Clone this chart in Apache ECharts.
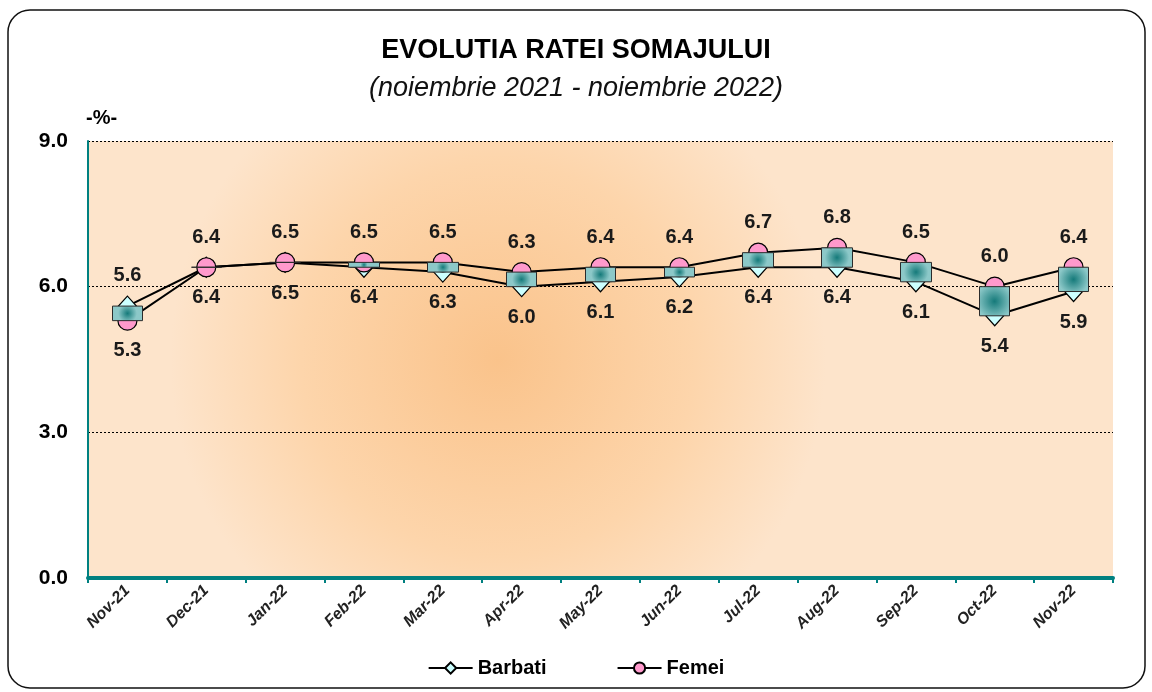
<!DOCTYPE html>
<html>
<head>
<meta charset="utf-8">
<script src="https://cdn.jsdelivr.net/npm/echarts@6/dist/echarts.min.js"></script>
<style>
  html,body{margin:0;padding:0;background:#fff;}
  #chart{width:1152px;height:692px;}
</style>
</head>
<body>
<div id="chart"></div>
<script>
// date lunare
var luni = ['Nov-21','Dec-21','Jan-22','Feb-22','Mar-22','Apr-22','May-22','Jun-22','Jul-22','Aug-22','Sep-22','Oct-22','Nov-22'];
var barbati = [5.6, 6.4, 6.5, 6.4, 6.3, 6.0, 6.1, 6.2, 6.4, 6.4, 6.1, 5.4, 5.9];
var femei   = [5.3, 6.4, 6.5, 6.5, 6.5, 6.3, 6.4, 6.4, 6.7, 6.8, 6.5, 6.0, 6.4];
var yTicks  = [0, 3, 6, 9];

var FONT = "'Liberation Sans Narrow','Liberation Sans',Arial,sans-serif";

// etichete: seria mai mare sus, cealalta jos
var barbatiData = barbati.map(function(v,i){
    return {value:v, label:{position: v > femei[i] ? 'top' : 'bottom'}};
});
var femeiData = femei.map(function(v,i){
    return {value:v, label:{position: v >= barbati[i] ? 'top' : 'bottom'}};
});
// up/down bars intre cele doua serii
var upDown = barbati.map(function(v,i){
    var f = femei[i];
    return [v, f, Math.min(v,f), Math.max(v,f)];
});

var labelStyle = {
    show:true,
    distance:10,
    fontFamily:FONT,
    fontSize:20,
    fontWeight:'bold',
    color:'#1a1a1a',
    formatter:function(p){ return Number(p.value).toFixed(1); }
};

var boxFill = {type:'radial',x:0.5,y:0.5,r:0.6,colorStops:[{offset:0,color:'#157a7a'},{offset:1,color:'#8cc8c8'}]};

var myChart = echarts.init(document.getElementById('chart'));
var option = {
    backgroundColor:'#ffffff',
    animation:false,
    graphic:[
        {
            type:'rect',
            shape:{x:8,y:10,width:1137,height:678,r:22},
            style:{fill:'none',stroke:'#111',lineWidth:1.5},
            z:-1
        },
        {
            type:'text',
            left:'center',
            top:37,
            style:{text:'EVOLUTIA RATEI SOMAJULUI',font:"bold 27px "+FONT,fill:'#000'}
        },
        {
            type:'text',
            left:'center',
            top:75,
            style:{text:'(noiembrie 2021 - noiembrie 2022)',font:"italic 27px "+FONT,fill:'#111'}
        },
        {
            type:'text',
            left:86,
            top:108,
            style:{text:'-%-',font:"bold 20px "+FONT,fill:'#000'}
        }
    ],
    grid:{
        left:88,
        right:39,
        top:141,
        bottom:114,
        show:true,
        borderWidth:0,
        backgroundColor:{
            type:'radial',
            x:0.4, y:0.5, r:0.75,
            colorStops:[
                {offset:0,color:'#fac38b'},
                {offset:0.6,color:'#fdd5ab'},
                {offset:1,color:'#fde4cb'}
            ]
        }
    },
    legend:{
        bottom:9,
        left:'center',
        itemGap:70,
        itemWidth:44,
        itemHeight:14,
        data:['Barbati','Femei'],
        textStyle:{fontFamily:FONT,fontSize:20,fontWeight:'bold',color:'#000'}
    },
    xAxis:{
        type:'category',
        data:luni,
        axisLine:{lineStyle:{color:'#008080',width:4}},
        axisTick:{show:true,length:5,lineStyle:{color:'#008080',width:2}},
        axisLabel:{
            rotate:45,
            margin:10,
            fontFamily:FONT,
            fontStyle:'italic',
            fontWeight:'bold',
            fontSize:16,
            color:'#222'
        },
        splitLine:{show:false}
    },
    yAxis:{
        type:'value',
        min:yTicks[0],
        max:yTicks[yTicks.length-1],
        interval:3,
        axisLine:{show:true,lineStyle:{color:'#008080',width:2}},
        axisTick:{show:false},
        axisLabel:{
            margin:20,
            fontFamily:FONT,
            fontWeight:'bold',
            fontSize:21,
            color:'#000',
            formatter:function(v){ return v.toFixed(1); }
        },
        splitLine:{show:true,lineStyle:{color:'#000',width:1,type:[2,2]}}
    },
    series:[
        {
            name:'Barbati',
            type:'line',
            data:barbatiData,
            symbol:'diamond',
            symbolSize:[18,20],
            lineStyle:{color:'#000',width:2},
            itemStyle:{color:'#ccffff',borderColor:'#000',borderWidth:1.2},
            label:labelStyle,
            z:2
        },
        {
            name:'Femei',
            type:'line',
            data:femeiData,
            symbol:'circle',
            symbolSize:19,
            lineStyle:{color:'#000',width:2},
            itemStyle:{color:'#ff99cc',borderColor:'#000',borderWidth:1.2},
            label:labelStyle,
            z:2
        },
        {
            name:'updown',
            type:'candlestick',
            data:upDown,
            barWidth:31,
            z:4,
            itemStyle:{
                color:boxFill,
                color0:boxFill,
                borderColor:'#2b2b2b',
                borderColor0:'#2b2b2b',
                borderWidth:1
            }
        }
    ]
};
myChart.setOption(option);
</script>
</body>
</html>
